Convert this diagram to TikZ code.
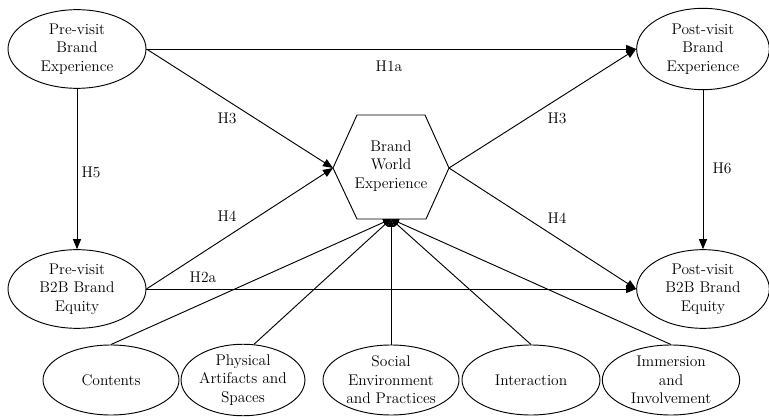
\documentclass[tikz,border=0pt]{standalone}
\usetikzlibrary{shapes.geometric,arrows.meta}
\begin{document}
\begin{tikzpicture}[x=0.75pt,y=-0.75pt,
  font=\fontsize{11.6}{13.8}\selectfont,
  construct/.style={draw,line width=0.7pt,ellipse,inner sep=0pt,align=center,
    minimum width=103.5pt,minimum height=59pt},
  dimension/.style={draw,line width=0.7pt,ellipse,inner sep=0pt,align=center,
    minimum height=52.5pt},
  path/.style={line width=0.7pt,-{Triangle[length=7.5pt,width=6pt]}},
  feed/.style={line width=0.7pt,-{Triangle[length=6pt,width=5pt]}},
  hyp/.style={inner sep=1pt}]
\useasboundingbox (0,0) rectangle (769,417);

% main constructs
\node[construct] (preBE) at (77,49) {Pre-visit\\Brand\\Experience};
\node[construct] (preBBE) at (77,289) {Pre-visit\\B2B Brand\\Equity};
\node[construct,minimum width=99.5pt,minimum height=61pt] (postBE) at (703,49) {Post-visit\\Brand\\Experience};
\node[construct,minimum width=99.5pt] (postBBE) at (703,289) {Post-visit\\B2B Brand\\Equity};

% brand world experience hexagon
\coordinate (hexL) at (333,168);
\coordinate (hexR) at (449,168);
\coordinate (hexB) at (391,219);
\draw[line width=0.7pt] (hexL) -- (357,115) -- (425,115) -- (hexR) -- (426,219) -- (357,219) -- cycle;
\node[align=center,inner sep=0pt] (bwe) at (391,166) {Brand\\World\\Experience};

% dimensions of brand world experience
\node[dimension,minimum width=102pt] (cont) at (111,380) {Contents};
\node[dimension,minimum width=89pt] (phys) at (243,380) {Physical\\Artifacts and\\Spaces};
\node[dimension,minimum width=102pt] (soc) at (391,380) {Social\\Environment\\and Practices};
\node[dimension,minimum width=103.5pt] (inter) at (531,380) {Interaction};
\node[dimension,minimum width=103pt] (imm) at (671,380) {Immersion\\and\\Involvement};

% hypothesised paths
\draw[path] (preBE.east) -- (postBE.west);
\draw[path] (preBE.east) -- (hexL);
\draw[path] (preBE.south) -- (preBBE.north);
\draw[path] (preBBE.east) -- (hexL);
\draw[path] (preBBE.east) -- (postBBE.west);
\draw[path] (hexR) -- (postBE.west);
\draw[path] (hexR) -- (postBBE.west);
\draw[path] (postBE.south) -- (postBBE.north);

% dimension paths
\draw[feed] (cont.north) -- (hexB);
\draw[feed] (phys.73) -- (hexB);
\draw[feed] (soc.north) -- (hexB);
\draw[feed] (inter.north) -- (hexB);
\draw[feed] (imm.north) -- (hexB);

% hypothesis labels
\node[hyp] (h1a) at (389,66) {H1a};
\node[hyp] (h3a) at (227,118) {H3};
\node[hyp] (h5) at (91,172) {H5};
\node[hyp] (h4a) at (227,216) {H4};
\node[hyp] (h2a) at (203,277) {H2a};
\node[hyp] (h3b) at (557,118) {H3};
\node[hyp] (h4b) at (557,218) {H4};
\node[hyp] (h6) at (722,168) {H6};
\end{tikzpicture}
\end{document}
